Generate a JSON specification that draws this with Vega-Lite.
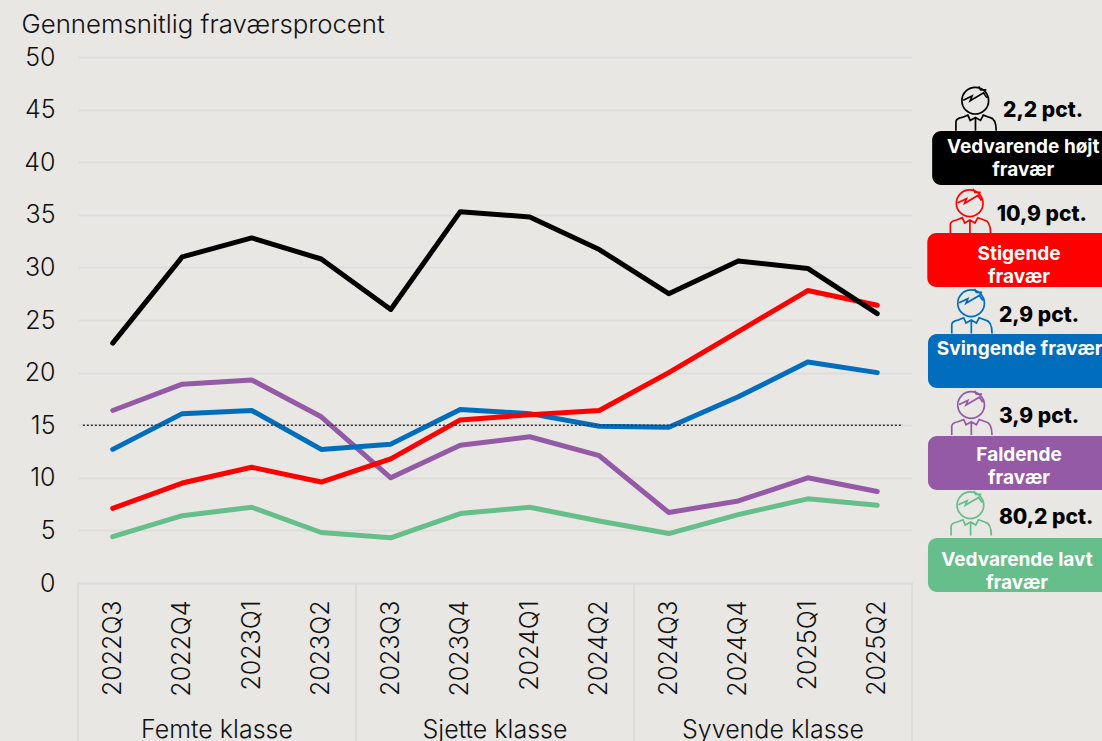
{
"$schema":"https://vega.github.io/schema/vega-lite/v6.json",
"autosize":"none","width":834,"height":526,
"padding":{"left":78,"top":57,"right":190,"bottom":158},
"background":"#E8E7E4",
"config":{"view":{"stroke":null},"font":"Inter"},
"datasets":{
"series":[
{"q":"2022Q3","g":"lav","v":4.4},{"q":"2022Q4","g":"lav","v":6.4},{"q":"2023Q1","g":"lav","v":7.2},{"q":"2023Q2","g":"lav","v":4.8},{"q":"2023Q3","g":"lav","v":4.3},{"q":"2023Q4","g":"lav","v":6.6},{"q":"2024Q1","g":"lav","v":7.2},{"q":"2024Q2","g":"lav","v":5.9},{"q":"2024Q3","g":"lav","v":4.7},{"q":"2024Q4","g":"lav","v":6.5},{"q":"2025Q1","g":"lav","v":8},{"q":"2025Q2","g":"lav","v":7.4},
{"q":"2022Q3","g":"fald","v":16.4},{"q":"2022Q4","g":"fald","v":18.9},{"q":"2023Q1","g":"fald","v":19.3},{"q":"2023Q2","g":"fald","v":15.8},{"q":"2023Q3","g":"fald","v":10},{"q":"2023Q4","g":"fald","v":13.1},{"q":"2024Q1","g":"fald","v":13.9},{"q":"2024Q2","g":"fald","v":12.1},{"q":"2024Q3","g":"fald","v":6.7},{"q":"2024Q4","g":"fald","v":7.8},{"q":"2025Q1","g":"fald","v":10},{"q":"2025Q2","g":"fald","v":8.7},
{"q":"2022Q3","g":"sving","v":12.7},{"q":"2022Q4","g":"sving","v":16.1},{"q":"2023Q1","g":"sving","v":16.4},{"q":"2023Q2","g":"sving","v":12.7},{"q":"2023Q3","g":"sving","v":13.2},{"q":"2023Q4","g":"sving","v":16.5},{"q":"2024Q1","g":"sving","v":16.1},{"q":"2024Q2","g":"sving","v":14.9},{"q":"2024Q3","g":"sving","v":14.8},{"q":"2024Q4","g":"sving","v":17.7},{"q":"2025Q1","g":"sving","v":21},{"q":"2025Q2","g":"sving","v":20},
{"q":"2022Q3","g":"stig","v":7.1},{"q":"2022Q4","g":"stig","v":9.5},{"q":"2023Q1","g":"stig","v":11},{"q":"2023Q2","g":"stig","v":9.6},{"q":"2023Q3","g":"stig","v":11.8},{"q":"2023Q4","g":"stig","v":15.5},{"q":"2024Q1","g":"stig","v":16},{"q":"2024Q2","g":"stig","v":16.4},{"q":"2024Q3","g":"stig","v":20},{"q":"2024Q4","g":"stig","v":23.9},{"q":"2025Q1","g":"stig","v":27.8},{"q":"2025Q2","g":"stig","v":26.4},
{"q":"2022Q3","g":"hoj","v":22.8},{"q":"2022Q4","g":"hoj","v":31},{"q":"2023Q1","g":"hoj","v":32.8},{"q":"2023Q2","g":"hoj","v":30.8},{"q":"2023Q3","g":"hoj","v":26},{"q":"2023Q4","g":"hoj","v":35.3},{"q":"2024Q1","g":"hoj","v":34.8},{"q":"2024Q2","g":"hoj","v":31.7},{"q":"2024Q3","g":"hoj","v":27.5},{"q":"2024Q4","g":"hoj","v":30.6},{"q":"2025Q1","g":"hoj","v":29.9},{"q":"2025Q2","g":"hoj","v":25.6}
],
"legend":[
{"g":"hoj","x0":12.29,"x1":14.92,"y1":42.97,"y0":37.83,"label":"Vedvarende højt\nfravær","lx":13.6,"ly":41.44,"pct":"2,2 pct.","px":13.31,"py":44.9,"ix":12.92,"iy":45.02},
{"g":"stig","x0":12.22,"x1":14.92,"y1":33.27,"y0":28.14,"label":"Stigende\nfravær","lx":13.54,"ly":31.27,"pct":"10,9 pct.","px":13.22,"py":35.0,"ix":12.84,"iy":35.27},
{"g":"sving","x0":12.23,"x1":14.92,"y1":23.67,"y0":18.54,"label":"Svingende fravær","lx":13.55,"ly":22.24,"pct":"2,9 pct.","px":13.25,"py":25.4,"ix":12.86,"iy":25.76},
{"g":"fald","x0":12.23,"x1":14.92,"y1":13.97,"y0":8.84,"label":"Faldende\nfravær","lx":13.54,"ly":12.16,"pct":"3,9 pct.","px":13.25,"py":15.8,"ix":12.86,"iy":16.09},
{"g":"lav","x0":12.23,"x1":14.92,"y1":4.28,"y0":-0.86,"label":"Vedvarende lavt\nfravær","lx":13.51,"ly":2.18,"pct":"80,2 pct.","px":13.25,"py":6.2,"ix":12.85,"iy":6.56}
],
"groups":[{"c":2,"name":"Femte klasse","y":-14.73},{"c":6,"name":"Sjette klasse","y":-14.73},{"c":10,"name":"Syvende klasse","y":-14.73}],
"seps":[{"c":0,"a":0,"b":-15.4},{"c":4,"a":0,"b":-15.4},{"c":8,"a":0,"b":-15.4},{"c":12,"a":0,"b":-15.4}],
"ref":[{"a":0.07,"b":11.87,"v":15}]
},
"resolve":{"scale":{"x":"independent","color":"shared"},"axis":{"x":"independent"}},
"layer":[
{"data":{"name":"seps"},"mark":{"type":"rule","color":"#DDDCDA","strokeWidth":2},
 "encoding":{"x":{"field":"c","type":"quantitative","axis":null,"scale":{"domain":[0,12],"nice":false,"zero":false}},
 "y":{"field":"a","type":"quantitative","scale":{"domain":[0,50],"nice":false}},"y2":{"field":"b"}}},
{"data":{"name":"series"},"mark":{"type":"line","strokeWidth":5,"strokeCap":"round","strokeJoin":"round"},
 "encoding":{
 "x":{"field":"q","type":"ordinal","title":null,"scale":{"type":"band","paddingInner":0,"paddingOuter":0},
  "axis":{"labelAngle":-90,"labelAlign":"right","labelBaseline":"middle","labelFont":"Inter","labelFontSize":25,"labelFontWeight":300,"labelColor":"#111111","labelPadding":17,"tickSize":0,"ticks":false,"domainColor":"#DDDCDA","domainWidth":2,"grid":false,"labelOverlap":false}},
 "y":{"field":"v","type":"quantitative","scale":{"domain":[0,50],"nice":false},
  "axis":{"values":[0,5,10,15,20,25,30,35,40,45,50],"title":"Gennemsnitlig fraværsprocent","titleAngle":0,"titleAlign":"left","titleBaseline":"middle","titleX":-57,"titleY":-33,"titleFont":"Inter","titleFontSize":25.8,"titleFontWeight":300,"titleColor":"#111111","labelFont":"Inter","labelFontSize":25,"labelFontWeight":300,"labelColor":"#111111","labelPadding":23,"ticks":false,"domain":false,"grid":true,"gridColor":"#DFDEDB","gridWidth":2}},
 "color":{"field":"g","type":"nominal","legend":null,"scale":{"domain":["hoj","stig","sving","fald","lav"],"range":["#000000","#FF0000","#006EBD","#955AA6","#66BE8B"]}},
 "order":{"field":"g"},"detail":{"field":"g"}}},
{"data":{"name":"ref"},"mark":{"type":"rule","color":"#333333","strokeWidth":1.5,"strokeDash":[2,2]},
 "encoding":{"x":{"field":"a","type":"quantitative","axis":null,"scale":{"domain":[0,12],"nice":false,"zero":false}},"x2":{"field":"b"},
 "y":{"field":"v","type":"quantitative","scale":{"domain":[0,50],"nice":false}}}},
{"data":{"name":"groups"},"mark":{"type":"text","fontSize":25,"fontWeight":300,"color":"#111111","baseline":"alphabetic","align":"center"},
 "encoding":{"x":{"field":"c","type":"quantitative","axis":null,"scale":{"domain":[0,12],"nice":false,"zero":false}},
 "y":{"field":"y","type":"quantitative","scale":{"domain":[0,50],"nice":false}},"text":{"field":"name"}}},
{"data":{"name":"legend"},"mark":{"type":"point","filled":false,"strokeWidth":1.7,"opacity":1,"size":2116,"shape":"M-0.61,-0.38 A0.58,0.58 0 1,1 0.55,-0.38 A0.58,0.58 0 1,1 -0.61,-0.38 Z M-0.55,-0.4 L-0.17,-0.58 L-0.25,-0.38 L0.33,-0.72 L0.48,-0.5 M0.12,-1 L0.2,-0.85 L0.45,-0.85 M-0.87,0.93 V0.55 Q-0.87,0.4 -0.6,0.35 L-0.35,0.25 L-0.25,0.48 L-0.02,0.35 L0.2,0.48 L0.32,0.25 L0.6,0.35 Q0.88,0.4 0.88,0.93 M-0.02,0.35 V0.93"},
 "encoding":{"x":{"field":"ix","type":"quantitative","axis":null,"scale":{"domain":[0,12],"nice":false,"zero":false}},
 "y":{"field":"iy","type":"quantitative","scale":{"domain":[0,50],"nice":false}},
 "color":{"field":"g","type":"nominal","legend":null}}},
{"data":{"name":"legend"},"mark":{"type":"bar","cornerRadius":9},
 "encoding":{"x":{"field":"x0","type":"quantitative","axis":null,"scale":{"domain":[0,12],"nice":false,"zero":false}},"x2":{"field":"x1"},
 "y":{"field":"y0","type":"quantitative","scale":{"domain":[0,50],"nice":false}},"y2":{"field":"y1"},
 "color":{"field":"g","type":"nominal","legend":null}}},
{"data":{"name":"legend"},"mark":{"type":"text","color":"#FFFFFF","fontSize":19,"fontWeight":"bold","lineBreak":"\n","lineHeight":22.5,"align":"center","baseline":"middle"},
 "encoding":{"x":{"field":"lx","type":"quantitative","axis":null,"scale":{"domain":[0,12],"nice":false,"zero":false}},
 "y":{"field":"ly","type":"quantitative","scale":{"domain":[0,50],"nice":false}},"text":{"field":"label"}}},
{"data":{"name":"legend"},"mark":{"type":"text","color":"#000000","fontSize":21,"fontWeight":800,"align":"left","baseline":"middle"},
 "encoding":{"x":{"field":"px","type":"quantitative","axis":null,"scale":{"domain":[0,12],"nice":false,"zero":false}},
 "y":{"field":"py","type":"quantitative","scale":{"domain":[0,50],"nice":false}},"text":{"field":"pct"}}}
]
}
